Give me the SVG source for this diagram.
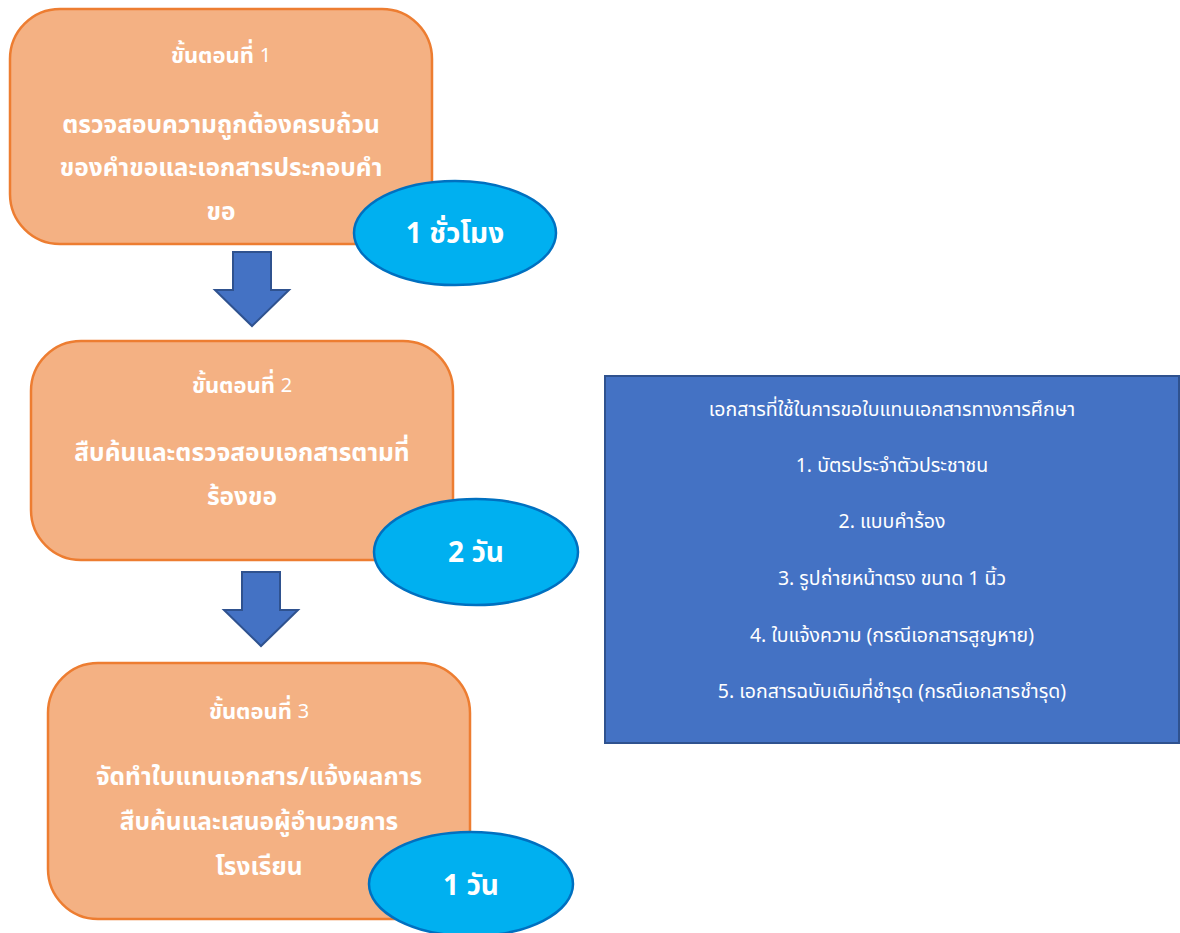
<svg xmlns="http://www.w3.org/2000/svg" width="1180" height="933" viewBox="0 0 1180 933">
<style>
.step{fill:#F4B183;stroke:#ED7D31;stroke-width:2.5}
.time{fill:#00B0F0;stroke:#0070C0;stroke-width:2.5}
.arrow{fill:#4472C4;stroke:#2F528F;stroke-width:2}
.t{font-family:"Noto Sans Thai","Tahoma","Noto Sans","DejaVu Sans",sans-serif;fill:#FFFFFF;text-anchor:middle;dominant-baseline:central}
.h{font-size:22px;font-weight:bold}
.n{font-weight:normal;font-size:20px}
.b{font-size:24.5px;font-weight:bold}
.e{font-size:28px;font-weight:bold}
.d{font-size:19.5px}
</style>
<rect width="1180" height="933" fill="#FFFFFF"/>
<g id="connectors">
<path class="arrow" d="M233,252 H271 V290 H289 L252,326 L215,290 H233 Z"/>
<path class="arrow" d="M242,572 H280 V610 H298 L261,646 L224,610 H242 Z"/>
</g>
<g id="step1">
<rect class="step" x="10" y="9" width="422" height="235" rx="50"/>
<text class="t h" x="221" y="56">ขั้นตอนที่ <tspan class="n">1</tspan></text>
<text class="t b" x="221" y="125">ตรวจสอบความถูกต้องครบถ้วน</text>
<text class="t b" x="221" y="168">ของคำขอและเอกสารประกอบคำ</text>
<text class="t b" x="221" y="212">ขอ</text>
</g>
<g id="time1">
<ellipse class="time" cx="455" cy="233" rx="101" ry="52"/>
<text class="t e" x="455" y="234">1 ชั่วโมง</text>
</g>
<g id="step2">
<rect class="step" x="31" y="341" width="422" height="219" rx="50"/>
<text class="t h" x="242" y="386">ขั้นตอนที่ <tspan class="n">2</tspan></text>
<text class="t b" x="242" y="453">สืบค้นและตรวจสอบเอกสารตามที่</text>
<text class="t b" x="242" y="497">ร้องขอ</text>
</g>
<g id="time2">
<ellipse class="time" cx="476" cy="552" rx="102" ry="53"/>
<text class="t e" x="476" y="553">2 วัน</text>
</g>
<g id="step3">
<rect class="step" x="48" y="663" width="422" height="256" rx="50"/>
<text class="t h" x="259" y="712">ขั้นตอนที่ <tspan class="n">3</tspan></text>
<text class="t b" x="259" y="777">จัดทำใบแทนเอกสาร/แจ้งผลการ</text>
<text class="t b" x="259" y="822">สืบค้นและเสนอผู้อำนวยการ</text>
<text class="t b" x="259" y="867">โรงเรียน</text>
</g>
<g id="time3">
<ellipse class="time" cx="471" cy="884" rx="102" ry="52"/>
<text class="t e" x="471" y="886">1 วัน</text>
</g>
<g id="documents">
<rect x="605" y="376" width="574" height="367" fill="#4472C4" stroke="#2F528F" stroke-width="2"/>
<text class="t d" x="892" y="410">เอกสารที่ใช้ในการขอใบแทนเอกสารทางการศึกษา</text>
<text class="t d" x="892" y="466">1. บัตรประจำตัวประชาชน</text>
<text class="t d" x="892" y="522">2. แบบคำร้อง</text>
<text class="t d" x="892" y="579">3. รูปถ่ายหน้าตรง ขนาด 1 นิ้ว</text>
<text class="t d" x="892" y="636">4. ใบแจ้งความ (กรณีเอกสารสูญหาย)</text>
<text class="t d" x="892" y="692">5. เอกสารฉบับเดิมที่ชำรุด (กรณีเอกสารชำรุด)</text>
</g>
</svg>
